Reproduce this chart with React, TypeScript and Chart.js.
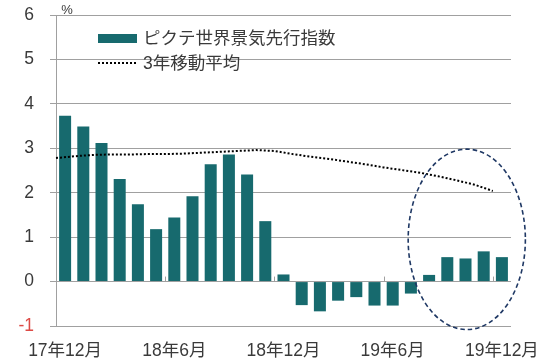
import React, { useEffect, useRef } from 'react';
import { Chart, registerables } from 'chart.js';

Chart.register(...registerables);

const months = [
  '17年12月', '18年1月', '18年2月', '18年3月', '18年4月', '18年5月', '18年6月',
  '18年7月', '18年8月', '18年9月', '18年10月', '18年11月', '18年12月',
  '19年1月', '19年2月', '19年3月', '19年4月', '19年5月', '19年6月',
  '19年7月', '19年8月', '19年9月', '19年10月', '19年11月', '19年12月',
];
const lineAxisLabels = [...months, '20年1月'];
const tickLabels = ['17年12月', '18年6月', '18年12月', '19年6月', '19年12月'];

const leadingIndex = [
  3.73, 3.49, 3.12, 2.31, 1.74, 1.18, 1.44, 1.92, 2.64, 2.86, 2.41, 1.36, 0.16,
  -0.53, -0.67, -0.43, -0.35, -0.54, -0.54, -0.27, 0.15, 0.55, 0.52, 0.68, 0.55,
];
const movingAverage = [
  2.78, 2.82, 2.85, 2.86, 2.86, 2.87, 2.87, 2.88, 2.9, 2.92, 2.94, 2.96, 2.94,
  2.87, 2.81, 2.76, 2.7, 2.64, 2.57, 2.51, 2.45, 2.37, 2.28, 2.18, 2.04,
];

const seriesNames = ['ピクテ世界景気先行指数', '3年移動平均'];
const yMin = -1;
const yMax = 6;

// highlight ellipse in data units (category index, value)
const highlight = { xCenter: 22.07, yCenter: 0.95, xRadius: 3.22, yRadius: 2.03 };

const BAR_COLOR = '#176a6e';
const GRID = '#a0a0a0';
const TEXT = '#3a3a3a';
const NEG = '#dd4a45';
const FONT = '"Liberation Sans", "Noto Sans CJK JP", sans-serif';

export default function App() {
  const ref = useRef<HTMLCanvasElement | null>(null);

  useEffect(() => {
    const canvas = ref.current;
    if (!canvas) return;

    const overlay = {
      id: 'overlay',
      afterDraw(chart: any) {
        const ctx = chart.ctx;
        const area = chart.chartArea;
        const xs = chart.scales.x;
        const ys = chart.scales.y;
        ctx.save();

        // small tick marks at zero line
        const y0 = ys.getPixelForValue(0);
        ctx.strokeStyle = GRID;
        ctx.lineWidth = 1;
        [6, 12, 18, 24].forEach((i) => {
          const px = Math.round((xs.getPixelForValue(i - 1) + xs.getPixelForValue(i)) / 2) + 0.5;
          ctx.beginPath();
          ctx.moveTo(px, y0);
          ctx.lineTo(px, y0 - 5);
          ctx.stroke();
        });

        // % unit
        ctx.fillStyle = TEXT;
        ctx.font = `13px ${FONT}`;
        ctx.textAlign = 'center';
        ctx.textBaseline = 'middle';
        ctx.fillText('%', area.left + 11, area.top - 5);

        // legend
        const lx = area.left + 42;
        ctx.fillStyle = BAR_COLOR;
        ctx.fillRect(lx, area.top + 19, 39, 9);
        ctx.strokeStyle = '#000';
        ctx.lineWidth = 2;
        ctx.setLineDash([2, 2]);
        ctx.beginPath();
        ctx.moveTo(lx, area.top + 48);
        ctx.lineTo(lx + 39, area.top + 48);
        ctx.stroke();
        ctx.setLineDash([]);
        ctx.fillStyle = TEXT;
        ctx.font = `17.5px ${FONT}`;
        ctx.textAlign = 'left';
        ctx.fillText(seriesNames[0], lx + 45, area.top + 24);
        ctx.fillText(seriesNames[1], lx + 45, area.top + 49);

        // highlight ellipse
        const cx = xs.getPixelForValue(highlight.xCenter);
        const cy = ys.getPixelForValue(highlight.yCenter);
        const rx = Math.abs(xs.getPixelForValue(highlight.xCenter + highlight.xRadius) - cx);
        const ry = Math.abs(ys.getPixelForValue(highlight.yCenter + highlight.yRadius) - cy);
        ctx.strokeStyle = '#1f3864';
        ctx.lineWidth = 1.6;
        ctx.setLineDash([4.5, 3]);
        ctx.beginPath();
        ctx.ellipse(cx, cy, rx, ry, 0, 0, Math.PI * 2);
        ctx.stroke();
        ctx.restore();
      },
    };

    const chart = new Chart(canvas, {
      type: 'bar',
      data: {
        labels: months,
        datasets: [
          {
            type: 'line',
            label: seriesNames[1],
            data: movingAverage,
            xAxisID: 'x2',
            yAxisID: 'y',
            borderColor: '#000',
            borderWidth: 2,
            borderDash: [2, 2],
            pointRadius: 0,
            fill: false,
            tension: 0,
            order: 0,
          } as any,
          {
            type: 'bar',
            label: seriesNames[0],
            data: leadingIndex,
            xAxisID: 'x',
            yAxisID: 'y',
            backgroundColor: BAR_COLOR,
            borderWidth: 0,
            grouped: false,
            barPercentage: 0.66,
            categoryPercentage: 1,
            order: 1,
          } as any,
        ],
      },
      options: {
        responsive: false,
        animation: false,
        layout: { padding: { top: 15, right: 39, left: 0, bottom: 0 } },
        plugins: {
          legend: { display: false },
          tooltip: { enabled: false },
        },
        scales: {
          x: {
            type: 'category',
            offset: true,
            grid: { display: false, drawTicks: false, tickLength: 0 },
            border: { display: false },
            ticks: {
              autoSkip: false,
              maxRotation: 0,
              minRotation: 0,
              padding: 15,
              color: TEXT,
              font: { family: FONT, size: 17.5 },
              callback: (_v: any, i: number) =>
                tickLabels.includes(months[i]) ? months[i] : '',
            },
            afterFit: (s: any) => {
              s.height = 36;
              s.paddingLeft = 0;
              s.paddingRight = 0;
            },
          },
          x2: {
            type: 'category',
            labels: lineAxisLabels,
            offset: false,
            display: false,
          },
          y: {
            min: yMin,
            max: yMax,
            ticks: {
              stepSize: 1,
              padding: 16,
              color: (c: any) => (c.tick && c.tick.value < 0 ? NEG : TEXT),
              font: { family: FONT, size: 17.5 },
            },
            grid: { color: GRID, lineWidth: 1, drawTicks: true, tickLength: 6 },
            border: { display: true, color: GRID, width: 1 },
            afterFit: (s: any) => {
              s.width = 56;
              s.paddingTop = 0;
              s.paddingBottom = 0;
            },
          },
        },
      },
      plugins: [overlay],
    });

    return () => chart.destroy();
  }, []);

  return (
    <div style={{ position: 'fixed', left: 0, top: 0, width: 550, height: 362, background: '#fff' }}>
      <canvas ref={ref} width={550} height={362} style={{ display: 'block' }} />
    </div>
  );
}
